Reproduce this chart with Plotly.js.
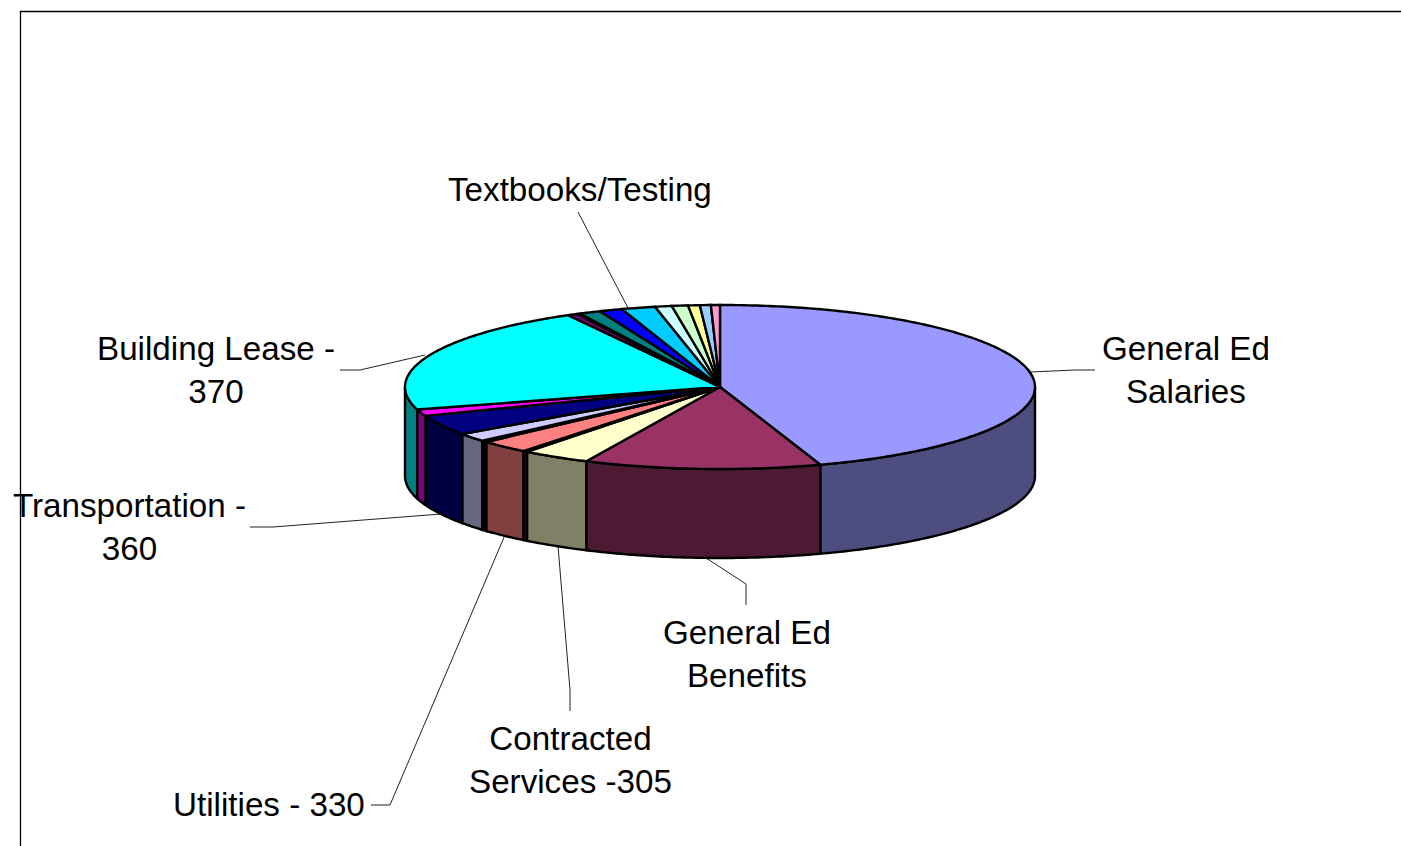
<!DOCTYPE html>
<html>
<head>
<meta charset="utf-8">
<script src="https://cdn.plot.ly/plotly-3.0.1.min.js"></script>
<style>html,body{margin:0;padding:0;background:#fff;overflow:hidden}#chart{width:1401px;height:846px}</style>
</head>
<body>
<div id="chart"></div>
<script>
// Slice data, clockwise from 12 o'clock (percent of the whole)
const categories = ["General Ed Salaries","General Ed Benefits","Contracted Services -305","Slice 4","Utilities - 330","Slice 6","Slice 7","Transportation - 360","Slice 9","Building Lease - 370","Slice 11","Slice 12","Slice 13","Slice 14","Textbooks/Testing","Slice 16","Slice 17","Slice 18","Slice 19","Slice 20"];
const values = [44.86,12.14,3.52,0.24,2.57,0.31,1.64,4.03,1.28,21.43,0.50,0.18,1.11,1.19,1.73,0.86,0.83,0.60,0.56,0.46];
const topColors = ["#9999FF","#993366","#FFFFCC","#660066","#FF8080","#000000","#CCCCFF","#000080","#FF00FF","#00FFFF","#800080","#800000","#008080","#0000FF","#00CCFF","#CCFFFF","#CCFFCC","#FFFF99","#99CCFF","#FF99CC"];

// Label texts with their anchor points and leader lines
const labelTexts = ["General Ed<br>Salaries","Textbooks/Testing","Building Lease -<br>370","Transportation -<br>360","Utilities - 330","Contracted<br>Services -305","General Ed<br>Benefits"];
const labelX = [1186,580,216,129,269,570,747];
const labelY = [369.5,189,369.5,527,804,759.5,653.5];
const leaderPaths = [
  "M1095,370 L1075,370 L1030,372",
  "M578,212 L628,308",
  "M340,370 L360,370 L425,355",
  "M250,527 L273,527 L441,514",
  "M371,805 L390,805 L505,535",
  "M570,711 L570,690 L558,546",
  "M746,605 L746,584 L703,556"
];

// Projection of the pie
const cx = 720, cy = 387, rx = 315, ry = 82, depth = 89;
const total = values.reduce((a,b)=>a+b,0);
const px = t => cx + rx*Math.sin(t*Math.PI/180);
const py = t => cy - ry*Math.cos(t*Math.PI/180);
const halve = hex => "#" + [1,3,5].map(i => Math.round(parseInt(hex.substr(i,2),16)/2).toString(16).padStart(2,"0")).join("");
function arc(a,b){ const out=[], n=Math.max(2,Math.ceil((b-a)/0.75)); for(let i=0;i<=n;i++) out.push(a+(b-a)*i/n); return out; }

const walls = [], tops = [];
let start = 0;
values.forEach((v,i)=>{
  const end = start + v/total*360;
  // top face
  const ts = arc(start,end);
  tops.push({
    type:"scatter", mode:"lines", name:categories[i], hoverinfo:"skip", showlegend:false,
    x:[cx].concat(ts.map(px),[cx]), y:[cy].concat(ts.map(py),[cy]),
    fill:"toself", fillcolor:topColors[i], line:{color:"#000",width:2.4,simplify:false}
  });
  // visible part of the outer wall (front half only)
  const a = Math.max(start,90), b = Math.min(end,270);
  if (b > a) {
    const ws = arc(a,b), back = ws.slice().reverse();
    walls.push({
      type:"scatter", mode:"lines", name:categories[i]+" (side)", hoverinfo:"skip", showlegend:false,
      x:ws.map(px).concat(back.map(px),[px(a)]),
      y:ws.map(py).concat(back.map(t=>py(t)+depth),[py(a)]),
      fill:"toself", fillcolor:halve(topColors[i]), line:{color:"#000",width:2.4,simplify:false}
    });
  }
  start = end;
});

const layout = {
  width:1401, height:846, margin:{l:0,r:0,t:0,b:0,pad:0},
  paper_bgcolor:"#fff", plot_bgcolor:"#fff", showlegend:false, hovermode:false,
  xaxis:{range:[0,1401],visible:false,fixedrange:true},
  yaxis:{range:[846,0],visible:false,fixedrange:true},
  shapes:[
    {type:"path",path:"M20.5,846 L20.5,11.5 L1401,11.5",line:{color:"#000",width:1.3},layer:"below"}
  ].concat(leaderPaths.map(p=>({type:"path",path:p,line:{color:"#222",width:1},layer:"below"}))),
  annotations:labelTexts.map((t,i)=>({
    text:t,x:labelX[i],y:labelY[i],xref:"x",yref:"y",xanchor:"center",yanchor:"middle",align:"center",
    showarrow:false,font:{family:"Liberation Sans, Arial, sans-serif",size:33.2,color:"#000"}
  }))
};
Plotly.newPlot("chart", walls.concat(tops), layout, {staticPlot:true,displayModeBar:false});
</script>
</body>
</html>
